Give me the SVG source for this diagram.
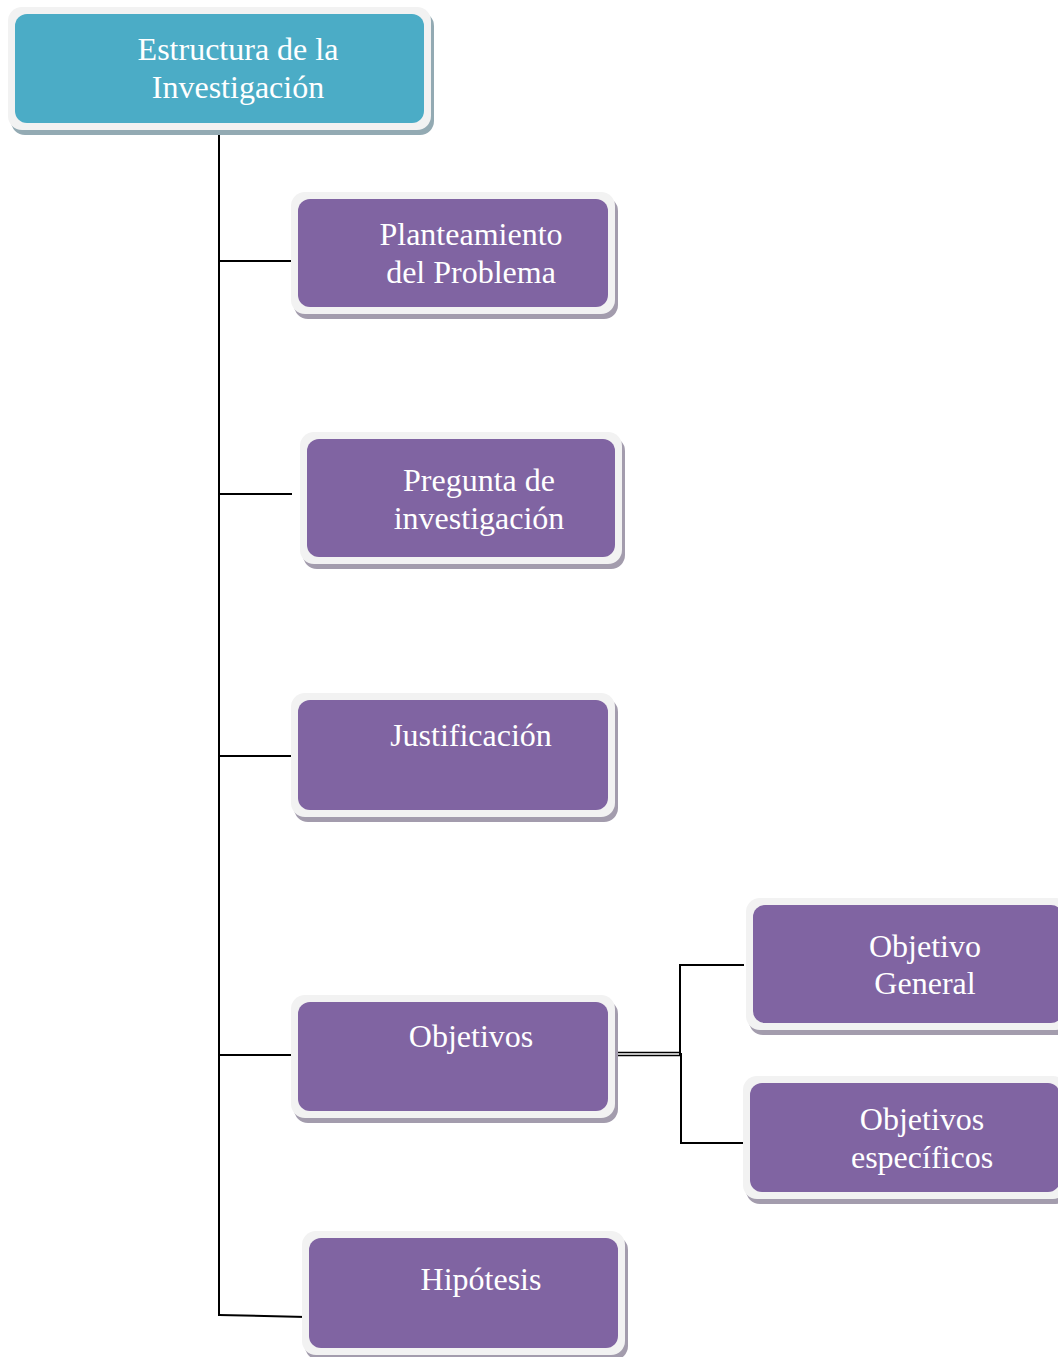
<svg xmlns="http://www.w3.org/2000/svg" width="1058" height="1357" viewBox="0 0 1058 1357">
  <style>
    .shadow-purple { fill: #a39cad; }
    .shadow-teal { fill: #93aab3; }
    .frame { fill: #f2f2f2; }
    .purple { fill: #8064a2; }
    .teal { fill: #4bacc6; }
    .label { font-size: 32px; fill: #ffffff; text-anchor: middle; }
    .wire { fill: none; stroke: #000000; stroke-width: 2; }
    .wire-thin { fill: none; stroke: #000000; stroke-width: 1.4; }
  </style>
  <rect x="0" y="0" width="1058" height="1357" fill="#ffffff"/>

  <!-- connectors -->
  <g id="connectors">
    <path class="wire" d="M219 130 V1316"/>
    <path class="wire" d="M219 261 H292"/>
    <path class="wire" d="M219 494 H292"/>
    <path class="wire" d="M219 756 H292"/>
    <path class="wire" d="M219 1055 H296"/>
    <path class="wire" d="M219 1315 L306 1317"/>
    <path class="wire-thin" d="M614 1052.5 H681"/>
    <path class="wire-thin" d="M614 1055.5 H681"/>
    <path class="wire" d="M744 965 H680 V1055"/>
    <path class="wire" d="M681 1053 V1143 H744"/>
  </g>

  <g font-family="'Liberation Serif', 'Times New Roman', Times, serif">
  <!-- root node -->
  <g id="node-estructura">
    <rect class="shadow-teal" x="11" y="12" width="423" height="123" rx="14"/>
    <rect class="frame" x="8" y="7" width="423" height="123" rx="14"/>
    <rect class="teal" x="15" y="14" width="409" height="109" rx="12"/>
    <text class="label" x="238" y="60">Estructura de la</text>
    <text class="label" x="238" y="98">Investigación</text>
  </g>

  <g id="node-planteamiento">
    <rect class="shadow-purple" x="294" y="197" width="324" height="122" rx="14"/>
    <rect class="frame" x="291" y="192" width="324" height="122" rx="14"/>
    <rect class="purple" x="298" y="199" width="310" height="108" rx="12"/>
    <text class="label" x="471" y="245">Planteamiento</text>
    <text class="label" x="471" y="283">del Problema</text>
  </g>

  <g id="node-pregunta">
    <rect class="shadow-purple" x="303" y="437" width="322" height="132" rx="14"/>
    <rect class="frame" x="300" y="432" width="322" height="132" rx="14"/>
    <rect class="purple" x="307" y="439" width="308" height="118" rx="12"/>
    <text class="label" x="479" y="491">Pregunta de</text>
    <text class="label" x="479" y="529">investigación</text>
  </g>

  <g id="node-justificacion">
    <rect class="shadow-purple" x="294" y="698" width="324" height="124" rx="14"/>
    <rect class="frame" x="291" y="693" width="324" height="124" rx="14"/>
    <rect class="purple" x="298" y="700" width="310" height="110" rx="12"/>
    <text class="label" x="471" y="746">Justificación</text>
  </g>

  <g id="node-objetivos">
    <rect class="shadow-purple" x="294" y="1000" width="324" height="123" rx="14"/>
    <rect class="frame" x="291" y="995" width="324" height="123" rx="14"/>
    <rect class="purple" x="298" y="1002" width="310" height="109" rx="12"/>
    <text class="label" x="471" y="1047">Objetivos</text>
  </g>

  <g id="node-objetivo-general">
    <rect class="shadow-purple" x="749" y="903" width="324" height="132" rx="14"/>
    <rect class="frame" x="746" y="898" width="324" height="132" rx="14"/>
    <rect class="purple" x="753" y="905" width="310" height="118" rx="12"/>
    <text class="label" x="925" y="957">Objetivo</text>
    <text class="label" x="925" y="994">General</text>
  </g>

  <g id="node-objetivos-especificos">
    <rect class="shadow-purple" x="746" y="1081" width="324" height="123" rx="14"/>
    <rect class="frame" x="743" y="1076" width="324" height="123" rx="14"/>
    <rect class="purple" x="750" y="1083" width="310" height="109" rx="12"/>
    <text class="label" x="922" y="1130">Objetivos</text>
    <text class="label" x="922" y="1168">específicos</text>
  </g>

  <g id="node-hipotesis">
    <rect class="shadow-purple" x="305" y="1236" width="323" height="124" rx="14"/>
    <rect class="frame" x="302" y="1231" width="323" height="124" rx="14"/>
    <rect class="purple" x="309" y="1238" width="309" height="110" rx="12"/>
    <text class="label" x="481" y="1290">Hipótesis</text>
  </g>
  </g>
</svg>
